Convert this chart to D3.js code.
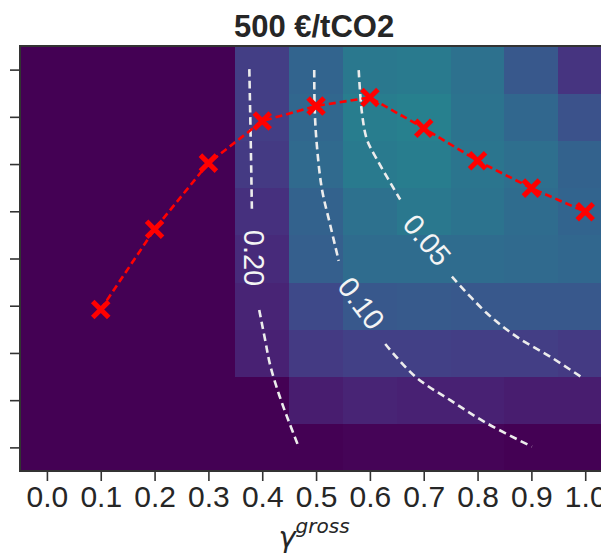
<!DOCTYPE html>
<html>
<head>
<meta charset="utf-8">
<script src="https://cdn.jsdelivr.net/npm/d3@7"></script>
<style>
  html, body { margin: 0; padding: 0; background: #fff; overflow: hidden; }
  svg { display: block; }
</style>
</head>
<body>
<svg id="chart" width="601" height="555"></svg>
<script>
// ── Data ──────────────────────────────────────────────────────
const xCats = [0.0, 0.1, 0.2, 0.3, 0.4, 0.5, 0.6, 0.7, 0.8, 0.9, 1.0];
const yCats = [0.1, 0.2, 0.3, 0.4, 0.5, 0.6, 0.7, 0.8, 0.9];
const xTickLabels = ['0.0', '0.1', '0.2', '0.3', '0.4', '0.5', '0.6', '0.7', '0.8', '0.9', '1.0'];

// heat values (0..1 of colour range), one row per yCat (bottom → top), one column per xCat
const heatRows = [
  [0, 0, 0, 0, 0.00, 0.00, 0.01, 0.01, 0.01, 0.00, 0.00],
  [0, 0, 0, 0, 0.00, 0.08, 0.10, 0.09, 0.09, 0.08, 0.08],
  [0, 0, 0, 0, 0.09, 0.17, 0.19, 0.19, 0.18, 0.18, 0.17],
  [0, 0, 0, 0, 0.10, 0.22, 0.27, 0.28, 0.27, 0.27, 0.27],
  [0, 0, 0, 0, 0.12, 0.30, 0.35, 0.35, 0.35, 0.34, 0.33],
  [0, 0, 0, 0, 0.14, 0.31, 0.37, 0.40, 0.38, 0.35, 0.32],
  [0, 0, 0, 0, 0.17, 0.34, 0.41, 0.42, 0.39, 0.36, 0.31],
  [0, 0, 0, 0, 0.18, 0.33, 0.42, 0.43, 0.38, 0.33, 0.25],
  [0, 0, 0, 0, 0.18, 0.32, 0.40, 0.41, 0.37, 0.27, 0.15]
];

// optimum curve (red crosses)
const optX = [0.1, 0.2, 0.3, 0.4, 0.5, 0.6, 0.7, 0.8, 0.9, 1.0];
const optY = [0.392, 0.562, 0.702, 0.791, 0.823, 0.841, 0.776, 0.707, 0.649, 0.599];

// contour lines, each split in two pieces around its label
const contours = [
  { level: '0.20', label: [0.385, 0.501, 90],
    pieces: [
      [[0.376, 0.901], [0.3786, 0.751], [0.3808, 0.604]],
      [[0.3944, 0.391], [0.4055, 0.327], [0.4148, 0.274], [0.4315, 0.211], [0.4483, 0.158], [0.4687, 0.098]]
    ] },
  { level: '0.10', label: [0.584, 0.405, 53],
    pieces: [
      [[0.4966, 0.899], [0.4975, 0.8145], [0.5016, 0.738], [0.5109, 0.647], [0.5263, 0.571], [0.5421, 0.495]],
      [[0.6285, 0.319], [0.6842, 0.250], [0.7492, 0.200], [0.8174, 0.151], [0.901, 0.1015]]
    ] },
  { level: '0.05', label: [0.706, 0.539, 50],
    pieces: [
      [[0.5792, 0.899], [0.5852, 0.809], [0.5945, 0.752], [0.613, 0.710], [0.6563, 0.625]],
      [[0.7524, 0.4615], [0.8174, 0.384], [0.8731, 0.334], [0.935, 0.292], [0.9968, 0.246]]
    ] }
];

// ── Layout ───────────────────────────────────────────────────
const svg = d3.select('#chart');
const plotLeft = 20, plotTop = 46, plotBottom = 471;
const cell = 53.83;
const plotRight = plotLeft + cell * xCats.length;

const x = d3.scaleLinear().domain([-0.05, 1.05]).range([plotLeft, plotRight]);
const y = d3.scaleLinear().domain([0.05, 0.95]).range([plotBottom, plotTop]);
const color = d3.scaleSequential(d3.interpolateViridis).domain([0, 1]);

// ── Heatmap ──────────────────────────────────────────────────
const cells = [];
heatRows.forEach((row, ri) => row.forEach((v, ci) => cells.push({ xv: xCats[ci], yv: yCats[ri], v })));

svg.append('g')
  .attr('shape-rendering', 'crispEdges')
  .selectAll('rect')
  .data(cells)
  .join('rect')
  .attr('x', d => x(d.xv - 0.05))
  .attr('y', d => y(d.yv + 0.05))
  .attr('width', d => x(d.xv + 0.05) - x(d.xv - 0.05) + 0.5)
  .attr('height', d => y(d.yv - 0.05) - y(d.yv + 0.05) + 0.5)
  .attr('fill', d => color(d.v));

// ── Contours ─────────────────────────────────────────────────
const cLine = d3.line().x(d => x(d[0])).y(d => y(d[1])).curve(d3.curveCatmullRom);
const cg = svg.append('g');
contours.forEach(c => {
  c.pieces.forEach(p => {
    cg.append('path')
      .attr('d', cLine(p))
      .attr('fill', 'none')
      .attr('stroke', '#ececec')
      .attr('stroke-width', 2.6)
      .attr('stroke-dasharray', '7.5,4.5');
  });
  cg.append('text')
    .attr('transform', `translate(${x(c.label[0])},${y(c.label[1])}) rotate(${c.label[2]})`)
    .attr('text-anchor', 'middle')
    .attr('dominant-baseline', 'central')
    .attr('font-family', "'Liberation Sans', Arial, sans-serif")
    .attr('font-size', '29px')
    .attr('fill', '#f4f4f4')
    .text(c.level);
});

// ── Optimum line ─────────────────────────────────────────────
const optPts = optX.map((v, i) => [v, optY[i]]);
svg.append('path')
  .attr('d', d3.line().x(d => x(d[0])).y(d => y(d[1]))(optPts))
  .attr('fill', 'none')
  .attr('stroke', '#ff0000')
  .attr('stroke-width', 2.6)
  .attr('stroke-dasharray', '7,4');

const ms = 8;
svg.append('g').selectAll('path')
  .data(optPts)
  .join('path')
  .attr('d', d => {
    const px = x(d[0]), py = y(d[1]);
    return `M${px - ms},${py - ms}L${px + ms},${py + ms}M${px - ms},${py + ms}L${px + ms},${py - ms}`;
  })
  .attr('stroke', '#ff0000')
  .attr('stroke-width', 5);

// ── Axes ─────────────────────────────────────────────────────
const xAxis = svg.append('g')
  .attr('transform', `translate(0,${plotBottom})`)
  .call(d3.axisBottom(x).tickValues(xCats).tickFormat((d, i) => xTickLabels[i]).tickSize(10).tickPadding(5));
const yAxis = svg.append('g')
  .attr('transform', `translate(${plotLeft},0)`)
  .call(d3.axisLeft(y).tickValues(yCats).tickFormat('').tickSize(10));

[xAxis, yAxis].forEach(a => {
  a.select('.domain').remove();
  a.selectAll('.tick line').attr('stroke', '#333').attr('stroke-width', 1.6);
});
xAxis.selectAll('.tick text')
  .attr('font-family', "'Liberation Sans', Arial, sans-serif")
  .attr('font-size', '30px')
  .attr('fill', '#262626');

// spines
svg.append('rect')
  .attr('x', plotLeft).attr('y', plotTop)
  .attr('width', plotRight - plotLeft).attr('height', plotBottom - plotTop)
  .attr('fill', 'none')
  .attr('stroke', '#333')
  .attr('stroke-width', 2);

// ── Titles ───────────────────────────────────────────────────
svg.append('text')
  .attr('x', (plotLeft + plotRight) / 2 - 2)
  .attr('y', 37)
  .attr('text-anchor', 'middle')
  .attr('font-family', "'Liberation Sans', Arial, sans-serif")
  .attr('font-weight', 'bold')
  .attr('font-size', '31px')
  .attr('fill', '#262626')
  .text('500 €/tCO2');

const xl = svg.append('text')
  .attr('x', 314)
  .attr('y', 547)
  .attr('text-anchor', 'middle')
  .attr('font-family', "'DejaVu Sans', sans-serif")
  .attr('font-style', 'italic')
  .attr('fill', '#262626');
xl.append('tspan').attr('font-size', '29px').text('γ');
xl.append('tspan').attr('font-size', '20px').attr('dy', -14).text('gross');
</script>
</body>
</html>
